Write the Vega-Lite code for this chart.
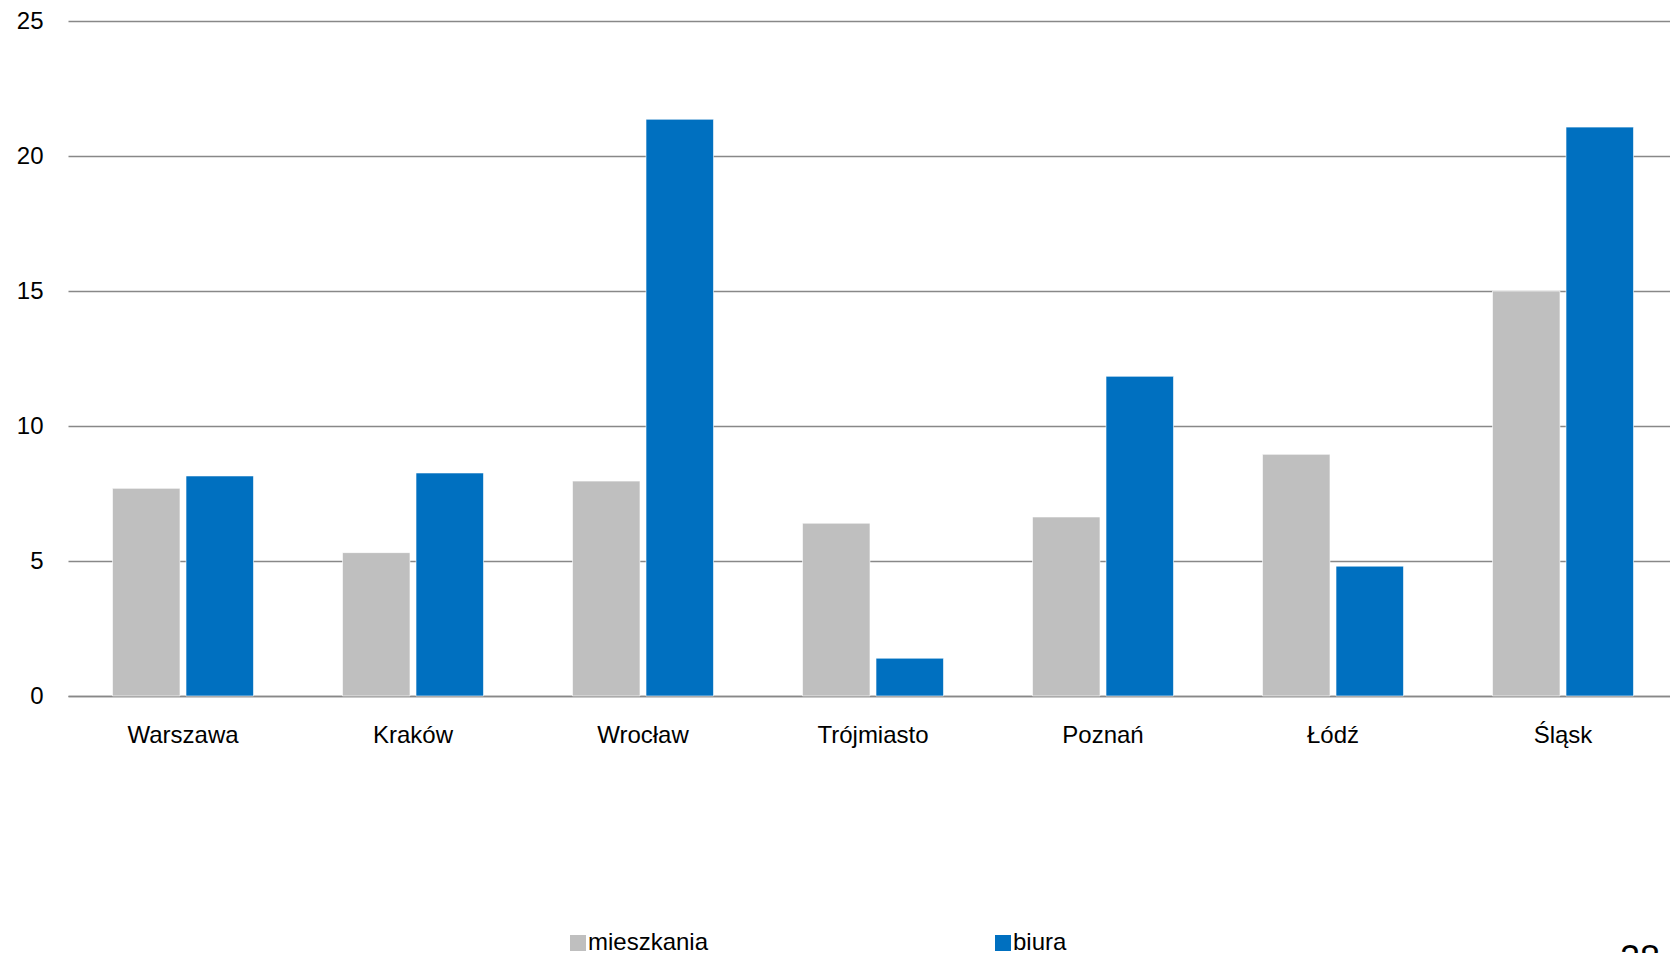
{
  "$schema": "https://vega.github.io/schema/vega-lite/v6.json",
  "autosize": {"type": "none"},
  "width": 1602,
  "height": 675,
  "padding": {"left": 68, "top": 21, "right": 0, "bottom": 257},
  "background": "white",
  "config": {
    "view": {"stroke": null},
    "font": "Liberation Sans",
    "axis": {"labelFont": "Liberation Sans", "labelColor": "#000000"},
    "legend": {"labelFont": "Liberation Sans", "labelColor": "#000000"}
  },
  "title": {
    "text": "28",
    "orient": "bottom",
    "anchor": "end",
    "frame": "group",
    "fontSize": 36,
    "fontWeight": "normal",
    "font": "Liberation Sans",
    "color": "#000000",
    "offset": -12,
    "dx": -10
  },
  "data": {
    "values": [
      {"miasto": "Warszawa", "rynek": "mieszkania", "wartosc": 7.69},
      {"miasto": "Warszawa", "rynek": "biura", "wartosc": 8.15},
      {"miasto": "Kraków", "rynek": "mieszkania", "wartosc": 5.31},
      {"miasto": "Kraków", "rynek": "biura", "wartosc": 8.26},
      {"miasto": "Wrocław", "rynek": "mieszkania", "wartosc": 7.96},
      {"miasto": "Wrocław", "rynek": "biura", "wartosc": 21.36},
      {"miasto": "Trójmiasto", "rynek": "mieszkania", "wartosc": 6.4},
      {"miasto": "Trójmiasto", "rynek": "biura", "wartosc": 1.4},
      {"miasto": "Poznań", "rynek": "mieszkania", "wartosc": 6.63},
      {"miasto": "Poznań", "rynek": "biura", "wartosc": 11.84},
      {"miasto": "Łódź", "rynek": "mieszkania", "wartosc": 8.95},
      {"miasto": "Łódź", "rynek": "biura", "wartosc": 4.81},
      {"miasto": "Śląsk", "rynek": "mieszkania", "wartosc": 15.0},
      {"miasto": "Śląsk", "rynek": "biura", "wartosc": 21.07}
    ]
  },
  "mark": {"type": "bar", "stroke": "#ffffff", "strokeWidth": 0.6},
  "encoding": {
    "x": {
      "field": "miasto",
      "type": "nominal",
      "sort": null,
      "scale": {"range": [0, 1610], "paddingInner": 0.387, "paddingOuter": 0.1935},
      "axis": {
        "title": null,
        "labelAngle": 0,
        "labelFontSize": 24,
        "labelPadding": 27,
        "ticks": false,
        "domain": true,
        "domainColor": "#888888",
        "domainWidth": 1.5,
        "grid": false
      }
    },
    "xOffset": {
      "field": "rynek",
      "type": "nominal",
      "sort": ["mieszkania", "biura"],
      "scale": {"paddingInner": 0.082, "paddingOuter": 0}
    },
    "y": {
      "field": "wartosc",
      "type": "quantitative",
      "scale": {"domain": [0, 25], "nice": false},
      "axis": {
        "title": null,
        "values": [0, 5, 10, 15, 20, 25],
        "labelFontSize": 24,
        "labelPadding": 25,
        "ticks": false,
        "domain": false,
        "grid": true,
        "gridColor": "#888888",
        "gridWidth": 1.5
      }
    },
    "color": {
      "field": "rynek",
      "type": "nominal",
      "scale": {"domain": ["mieszkania", "biura"], "range": ["#BFBFBF", "#0070C0"]},
      "legend": {
        "title": null,
        "orient": "none",
        "legendX": 498,
        "legendY": 910,
        "direction": "horizontal",
        "columns": 2,
        "columnPadding": 282,
        "padding": 0,
        "symbolType": "square",
        "symbolSize": 256,
        "symbolStrokeWidth": 0,
        "labelFontSize": 24,
        "labelOffset": -2
      }
    }
  }
}
